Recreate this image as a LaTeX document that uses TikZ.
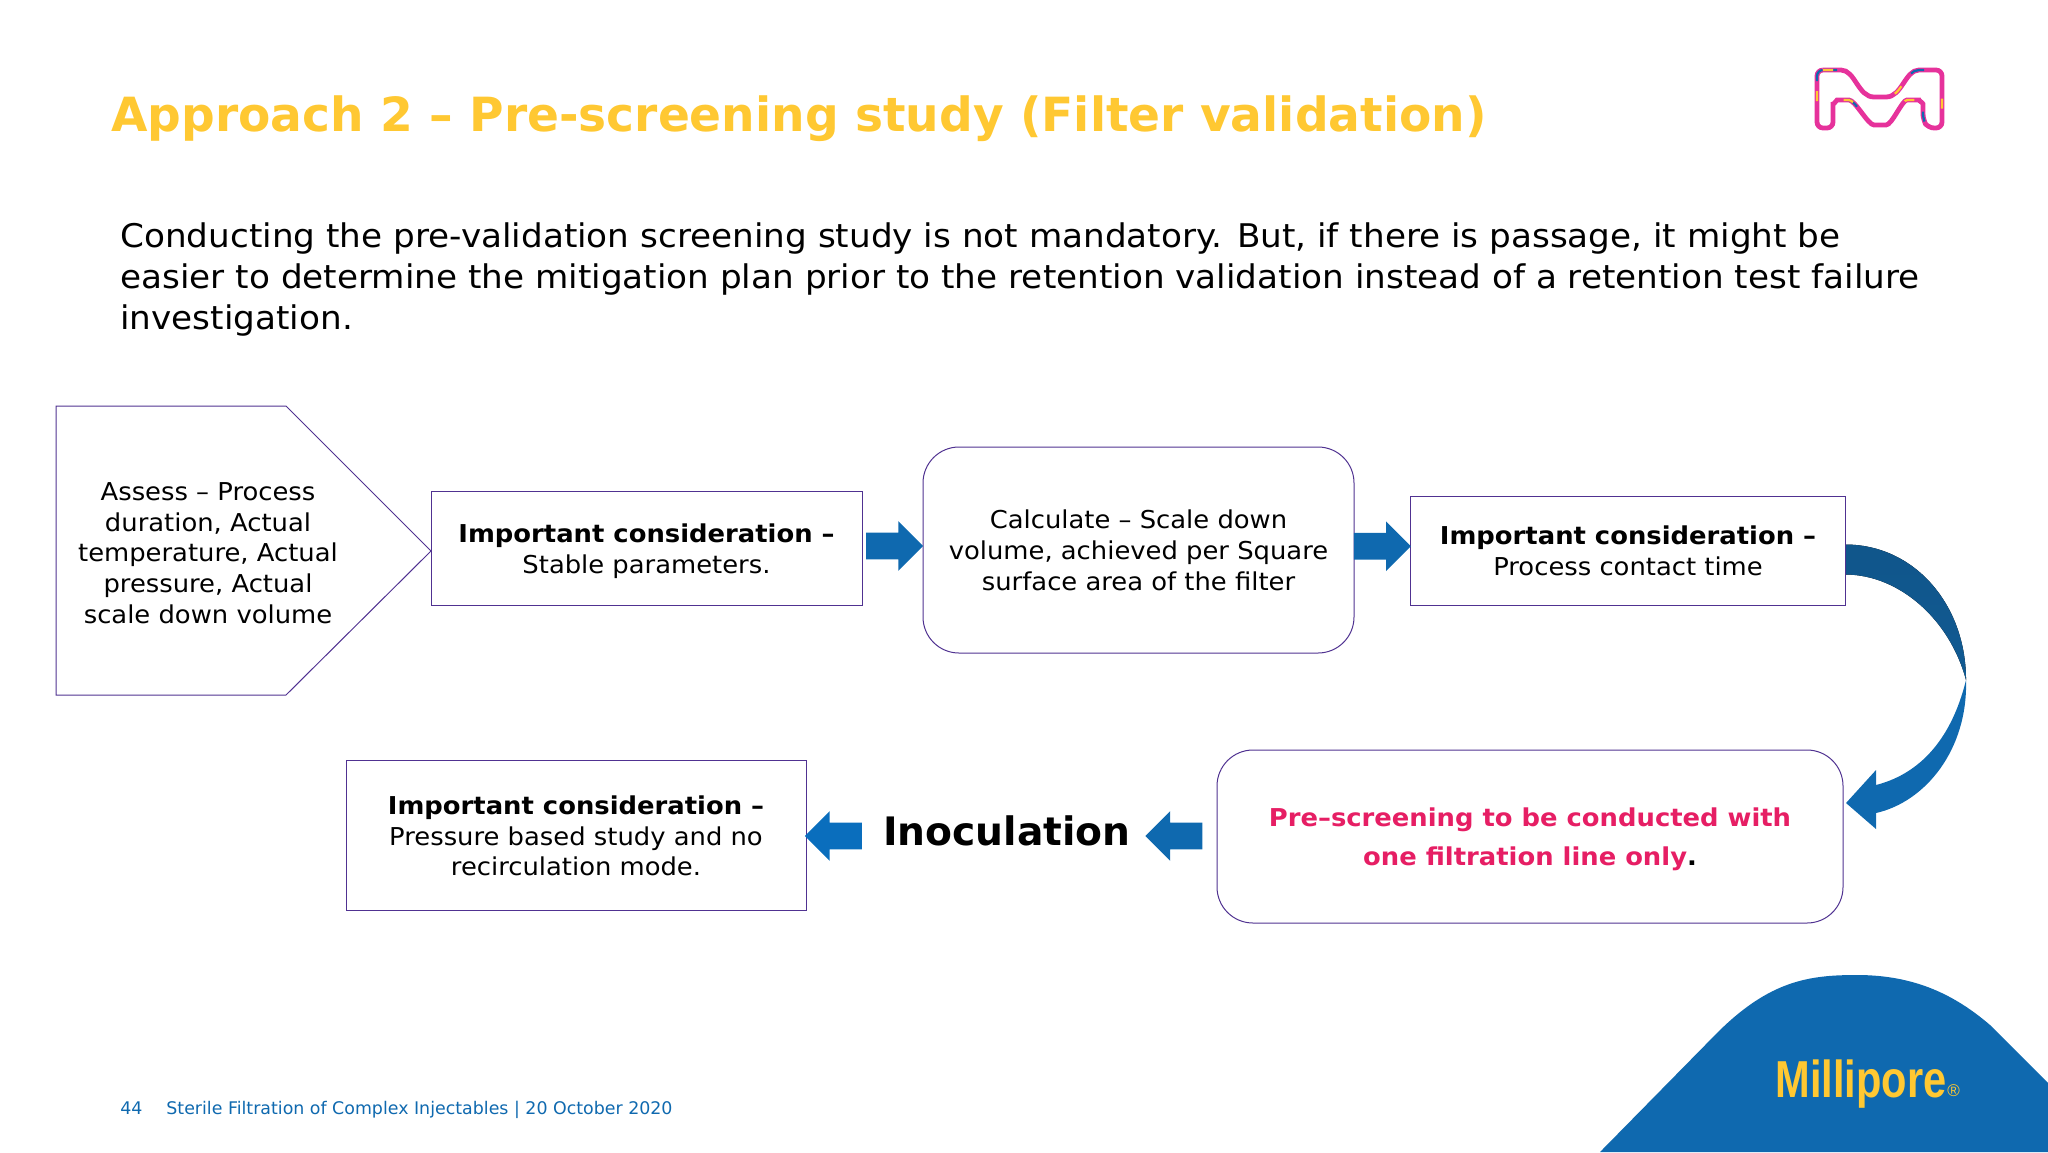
\documentclass[tikz,border=0pt]{standalone}
\usepackage{fontspec}
\setmainfont{DejaVu Sans}[FakeStretch=1.05]
\newfontfamily\headfont{DejaVu Sans}[Ligatures=TeX]
\newfontfamily\logofont{Liberation Sans}
\usetikzlibrary{calc, shapes.arrows}
\definecolor{my-yellow}{HTML}{FFC832}
\definecolor{my-purple}{HTML}{503291}
\definecolor{my-blue}{HTML}{0F69AF}
\definecolor{my-bright-blue}{HTML}{0A6EBD}
\definecolor{my-dark-blue}{HTML}{115A92}
\definecolor{my-pink}{HTML}{E61E64}
\definecolor{my-magenta}{HTML}{E6329B}
\tikzset{
    my-drop/.style={
      execute at begin node={\rule{0pt}{#1}}
    },
    my-box/.style={
      draw=my-purple, line width=.5pt, align=center, inner sep=0pt,
      font=\fontsize{12.3}{15.35}\selectfont
    },
    my-round-box/.style={
      my-box, rounded corners=18pt
    },
    my-text/.style={
      align=center, inner sep=0pt, font=\fontsize{12.3}{15.35}\selectfont
    },
    my-arrow/.style={
      single arrow, fill=my-blue, inner xsep=0pt, inner ysep=6.5pt, minimum width=24.5pt,
      minimum height=28.5pt, single arrow head extend=5.75pt
    },
    my-logo/.style={
      rounded corners=3pt
    },
}

\begin{document}
\begin{tikzpicture}[x=.5pt, y=-.5pt]

        \useasboundingbox (0,0) rectangle (2048,1152);

        % TITLE AND TEXT
        \node[anchor=west, inner sep=0pt, text=my-yellow, font=\headfont\fontsize{23.55}{28}\selectfont\bfseries] (TITLE) at (111,119)
            {Approach 2 -- Pre-screening study (Filter validation)};
        \node[anchor=north west, align=left, inner sep=0pt, font=\fontsize{16.3}{20.6}\selectfont] (INTRO) at (120,222)
            {Conducting the pre-validation screening study is not mandatory. But, if there is passage, it might be\\
             easier to determine the mitigation plan prior to the retention validation instead of a retention test failure\\
             investigation.};

        % LOGO
        \coordinate (LOGO) at (1880,100);
        \foreach \pen/\wide/\on/\off in {my-magenta/2.4/400/0, my-blue/1.1/7/48, my-yellow/1.1/5/37} {
            \draw[my-logo, draw=\pen, line width=\wide pt, dash pattern=on \on pt off \off pt]
                ($(LOGO) + (-63,-30)$) -- ($(LOGO) + (-45,-30)$)
                .. controls ($(LOGO) + (-25,-30)$) and ($(LOGO) + (-22,-3)$) .. ($(LOGO) + (0,-3)$)
                .. controls ($(LOGO) + (22,-3)$) and ($(LOGO) + (25,-30)$) .. ($(LOGO) + (45,-30)$)
                -- ($(LOGO) + (62,-30)$) -- ($(LOGO) + (62,28)$) -- ($(LOGO) + (48,28)$)
                -- ($(LOGO) + (43,20)$) -- ($(LOGO) + (43,10)$)
                .. controls ($(LOGO) + (43,3)$) and ($(LOGO) + (38,0)$) .. ($(LOGO) + (33,0)$)
                .. controls ($(LOGO) + (22,0)$) and ($(LOGO) + (12,25)$) .. ($(LOGO) + (0,25)$)
                .. controls ($(LOGO) + (-12,25)$) and ($(LOGO) + (-25,0)$) .. ($(LOGO) + (-37,0)$)
                .. controls ($(LOGO) + (-43,0)$) and ($(LOGO) + (-47,5)$) .. ($(LOGO) + (-47,10)$)
                -- ($(LOGO) + (-47,28)$) -- ($(LOGO) + (-63,28)$) -- cycle;
        }

        % TOP ROW
        \node[my-text] (ASSESS) at (208,553)
            {Assess -- Process\\duration, Actual\\temperature, Actual\\pressure, Actual\\scale down volume};
        \draw[draw=my-purple, line width=.5pt] (56,406) -- (286,406) -- (431,551) -- (286,695) -- (56,695) -- cycle;
        \node[my-box, my-drop=27.7pt, minimum width=215.5pt, minimum height=57pt] (STABLE) at (646.5,548)
            {\textbf{Important consideration --}\\Stable parameters.};
        \node[my-round-box, my-drop=40.5pt, minimum width=215.5pt, minimum height=103pt] (CALC) at (1138.5,550)
            {Calculate -- Scale down\\volume, achieved per Square\\surface area of the filter};
        \node[my-box, my-drop=25.2pt, minimum width=217.5pt, minimum height=54.5pt] (CONTACT) at (1628,550.5)
            {\textbf{Important consideration --}\\Process contact time};

        % BOTTOM ROW
        \node[my-round-box, my-drop=31.5pt, minimum width=313pt, minimum height=86.5pt, text=my-pink, font=\fontsize{12.3}{19.6}\selectfont\bfseries] (LINE) at (1530,836.5)
            {Pre--screening to be conducted with\\one filtration line only\textcolor{black}{.}};
        \node[inner sep=0pt, font=\headfont\fontsize{19.6}{24}\selectfont\bfseries] (INOC) at (1007,831) {Inoculation};
        \node[my-box, my-drop=41pt, minimum width=230pt, minimum height=75pt] (PRESSURE) at (576,835)
            {\textbf{Important consideration --}\\Pressure based study and no\\recirculation mode.};

        % BLOCK ARROWS
        \node[my-arrow] (ARROW1) at ($(STABLE.east)!.5!(CALC.west) + (-4.5,-3)$) {};
        \node[my-arrow] (ARROW2) at ($(CALC.east)!.5!(CONTACT.west) + (-6.5,-4)$) {};
        \node[my-arrow, shape border rotate=180] (ARROW3) at (1180.5,836) {};
        \node[my-arrow, fill=my-bright-blue, shape border rotate=180] (ARROW4) at (840,836) {};

        % CURVED ARROW
        \coordinate (BEND) at (1966,680);
        \fill[top color=my-dark-blue!95!black, bottom color=my-dark-blue]
            ($(CONTACT.east) + (0,-6)$) .. controls (1915,545) and (1966,605) .. (BEND)
            .. controls (1950,620) and (1900,575) .. ($(CONTACT.east) + (0,24)$) -- cycle;
        \fill[my-blue]
            (BEND) .. controls (1968,750) and (1925,802) .. (1876,813)
            -- (1876,829) -- (1846,803) -- (1876,770) -- (1876,785)
            .. controls (1915,775) and (1950,745) .. (BEND) -- cycle;

        % BRAND CORNER
        \fill[my-blue] (1600,1152) -- (1717,1033)
            .. controls (1770,980) and (1810,975) .. (1857,975)
            .. controls (1915,975) and (1955,995) .. (1990,1025)
            -- (2048,1083) -- (2048,1152) -- cycle;
        \node[anchor=base west, inner sep=0pt, text=my-yellow, font=\logofont\fontsize{26}{28}\selectfont\bfseries, xscale=.8] (BRAND) at (1775,1097) {Millipore};
        \node[anchor=base west, inner sep=0pt, text=my-yellow, font=\logofont\fontsize{8.5}{9}\selectfont] (REG) at (1947,1096) {®};

        % FOOTER
        \node[anchor=base west, inner sep=0pt, text=my-blue, font=\headfont\fontsize{8.7}{10}\selectfont] (PAGE) at (120,1114) {44};
        \node[anchor=base west, inner sep=0pt, text=my-blue, font=\headfont\fontsize{8.7}{10}\selectfont] (FOOT) at (166,1114)
            {Sterile Filtration of Complex Injectables | 20 October 2020};

    \end{tikzpicture}
\end{document}
